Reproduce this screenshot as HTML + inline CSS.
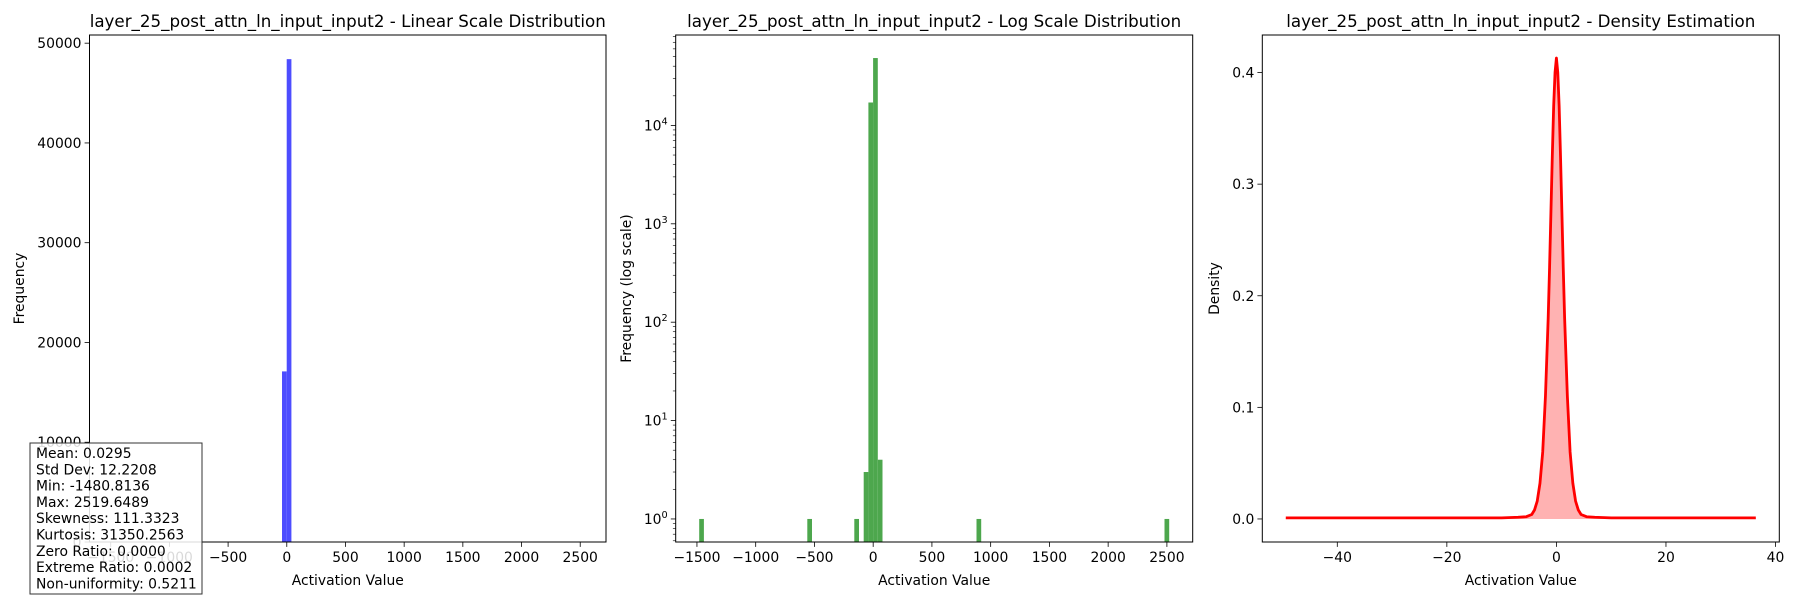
<!DOCTYPE html>
<html><head><meta charset="utf-8"><style>
body{margin:0;background:#fff}
svg text{font-family:"DejaVu Sans","Liberation Sans",sans-serif;fill:#000}
</style></head><body>
<svg id="fig" width="1800" height="600" viewBox="0 0 1800 600" xmlns="http://www.w3.org/2000/svg"></svg>
<script>
// ---- data ----
const binStart = -1480.8136;
const binEnd = 2519.6489;
const binCounts = [
1,0,0,0,0,0,0,0,0,0,
0,0,0,0,0,0,0,0,0,0,
0,0,0,1,0,0,0,0,0,0,
0,0,0,1,0,3,17100,48400,4,0,
0,0,0,0,0,0,0,0,0,0,
0,0,0,0,0,0,0,0,0,1,
0,0,0,0,0,0,0,0,0,0,
0,0,0,0,0,0,0,0,0,0,
0,0,0,0,0,0,0,0,0,0,
0,0,0,0,0,0,0,0,0,1];
const xTicksHist = [-1500,-1000,-500,0,500,1000,1500,2000,2500];
const yTicksLinear = [0,10000,20000,30000,40000,50000];
const logDecades = [0,1,2,3,4];
const kdeX = [-49.4,-40,-30,-20,-10,-7,-5.5,-4.5,-4,-3.5,-3,-2.5,-2,-1.5,-1.25,-1,-0.75,-0.5,-0.25,0,0.25,0.5,0.75,1,1.25,1.5,2,2.5,3,3.5,4,4.5,5.5,7,10,20,30,36.4];
const kdeY = [0.001,0.001,0.001,0.001,0.001,0.0015,0.002,0.004,0.008,0.016,0.032,0.06,0.11,0.18,0.225,0.275,0.325,0.37,0.4,0.413,0.4,0.37,0.325,0.275,0.225,0.18,0.11,0.06,0.032,0.016,0.008,0.004,0.002,0.0015,0.001,0.001,0.001,0.001];
const xTicksKde = [-40,-20,0,20,40];
const yTicksKde = [0.0,0.1,0.2,0.3,0.4];
const statsLines = ["Mean: 0.0295","Std Dev: 12.2208","Min: -1480.8136","Max: 2519.6489","Skewness: 111.3323","Kurtosis: 31350.2563","Zero Ratio: 0.0000","Extreme Ratio: 0.0002","Non-uniformity: 0.5211"];

const NS="http://www.w3.org/2000/svg";
const svg=document.getElementById('fig');
function mk(tag,attrs,parent){const e=document.createElementNS(NS,tag);for(const k in attrs)e.setAttribute(k,attrs[k]);(parent||svg).appendChild(e);return e;}
const TOP=35,BOT=542;
const panels=[{l:89.5,r:606},{l:675.7,r:1192.7},{l:1262.3,r:1779.3}];
const span=binEnd-binStart, xmn=binStart-0.05*span, xmx=binEnd+0.05*span;
const nb=binCounts.length, bw=span/nb;
function fmt(v){return v<0?'\u2212'+(-v):String(v);}

function frame(g,p){mk('rect',{x:p.l,y:TOP,width:p.r-p.l,height:BOT-TOP,fill:'none',stroke:'#000','stroke-width':1},g);}
function xtick(g,x,label){mk('line',{x1:x,y1:BOT,x2:x,y2:BOT+4.9,stroke:'#000','stroke-width':0.8},g);
 const t=mk('text',{x:x,y:BOT+20,'font-size':13.9,'text-anchor':'middle'},g);t.textContent=label;
 }
function ytick(g,p,y,label,sup){mk('line',{x1:p.l,y1:y,x2:p.l-4.9,y2:y,stroke:'#000','stroke-width':0.8},g);
 const t=mk('text',{x:p.l-8,y:y+5,'font-size':13.9,'text-anchor':'end'},g);
 
 if(sup!==undefined){t.textContent=label;const s=mk('tspan',{'font-size':9.7,dy:-6},t);s.textContent=sup;}
 else t.textContent=label;}
function title(g,p,s){const t=mk('text',{x:(p.l+p.r)/2,y:27,'font-size':16.7,'text-anchor':'middle'},g);t.textContent=s;
 }
function xlabel(g,p,s){const t=mk('text',{x:(p.l+p.r)/2,y:585,'font-size':13.9,'text-anchor':'middle'},g);t.textContent=s;
 }
function ylabel(g,x,s){const t=mk('text',{x:x,y:(TOP+BOT)/2,'font-size':13.9,'text-anchor':'middle',transform:`rotate(-90 ${x} ${(TOP+BOT)/2})`},g);t.textContent=s;
 }

// ---- panel 1: linear ----
{const p=panels[0];const g=mk('g',{});
 const ymax=Math.max(...binCounts)*1.05;
 const sx=v=>p.l+(v-xmn)/(xmx-xmn)*(p.r-p.l), sy=v=>BOT-v/ymax*(BOT-TOP);
 binCounts.forEach((c,i)=>{if(c<=0)return;const x0=sx(binStart+i*bw),x1=sx(binStart+(i+1)*bw);
  const r=mk('rect',{x:x0,y:sy(c),width:x1-x0,height:BOT-sy(c),fill:'#4d4dff'},g);
  });
 frame(g,p);
 xTicksHist.forEach(v=>xtick(g,sx(v),fmt(v)));
 yTicksLinear.forEach(v=>ytick(g,p,sy(v),String(v)));
 title(g,p,'layer_25_post_attn_ln_input_input2 - Linear Scale Distribution');
 xlabel(g,p,'Activation Value');ylabel(g,24,'Frequency');
 const box=mk('g',{});
 mk('rect',{x:30,y:443,width:172,height:151,fill:'#fff','fill-opacity':0.85,stroke:'#333','stroke-width':1},box);
 statsLines.forEach((s,i)=>{const t=mk('text',{x:36,y:458+i*16.3,'font-size':13.9},box);t.textContent=s;
  });
}
// ---- panel 2: log ----
{const p=panels[1];const g=mk('g',{});
 const lmax=Math.log10(Math.max(...binCounts));const lmn=-0.05*lmax,lmx=lmax*1.05;
 const sx=v=>p.l+(v-xmn)/(xmx-xmn)*(p.r-p.l), sy=v=>BOT-(Math.log10(v)-lmn)/(lmx-lmn)*(BOT-TOP);
 binCounts.forEach((c,i)=>{if(c<=0)return;const x0=sx(binStart+i*bw),x1=sx(binStart+(i+1)*bw);
  const r=mk('rect',{x:x0,y:sy(c),width:x1-x0,height:BOT-sy(c),fill:'#4da74d'},g);
  });
 frame(g,p);
 xTicksHist.forEach(v=>xtick(g,sx(v),fmt(v)));
 logDecades.forEach(d=>ytick(g,p,sy(Math.pow(10,d)),'10',String(d)));
 for(let d=-1;d<=5;d++)for(let m=2;m<=9;m++){const v=m*Math.pow(10,d);const y=sy(v);if(y<TOP||y>BOT)continue;
  mk('line',{x1:p.l,y1:y,x2:p.l-2.8,y2:y,stroke:'#000','stroke-width':0.6},g);}
 title(g,p,'layer_25_post_attn_ln_input_input2 - Log Scale Distribution');
 xlabel(g,p,'Activation Value');ylabel(g,631,'Frequency (log scale)');
}
// ---- panel 3: KDE ----
{const p=panels[2];const g=mk('g',{});
 const xr=kdeX[kdeX.length-1]-kdeX[0];const kx0=kdeX[0]-0.05*xr,kx1=kdeX[kdeX.length-1]+0.05*xr;
 const ym=Math.max(...kdeY);const ky0=-0.05*ym,ky1=ym*1.05;
 const sx=v=>p.l+(v-kx0)/(kx1-kx0)*(p.r-p.l), sy=v=>BOT-(v-ky0)/(ky1-ky0)*(BOT-TOP);
 let d='';kdeX.forEach((x,i)=>{d+=(i?'L':'M')+sx(x).toFixed(2)+','+sy(kdeY[i]).toFixed(2);});
 const fill=mk('path',{d:d+`L${sx(kdeX[kdeX.length-1])},${sy(0)}L${sx(kdeX[0])},${sy(0)}Z`,fill:'#ff0000','fill-opacity':0.3,stroke:'none'},g);
 
 const line=mk('path',{d:d,fill:'none',stroke:'#ff0000','stroke-width':2.8,'stroke-linejoin':'round'},g);
 
 frame(g,p);
 xTicksKde.forEach(v=>xtick(g,sx(v),fmt(v)));
 yTicksKde.forEach(v=>ytick(g,p,sy(v),v.toFixed(1)));
 title(g,p,'layer_25_post_attn_ln_input_input2 - Density Estimation');
 xlabel(g,p,'Activation Value');ylabel(g,1219,'Density');
}
</script>
</body></html>
